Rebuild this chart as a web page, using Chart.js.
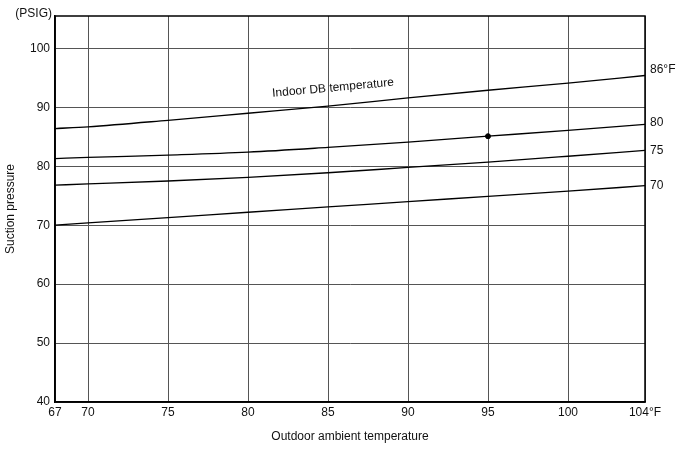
<!DOCTYPE html>
<html>
<head>
<meta charset="utf-8">
<script src="https://cdn.jsdelivr.net/npm/chart.js@4.4.1/dist/chart.umd.min.js"></script>
<style>
  html, body { margin: 0; padding: 0; background: #fff; }
  canvas { display: block; }
</style>
</head>
<body>
<canvas id="chart" width="687" height="449"></canvas>
<script>
// Chart data
const outdoorTemps = [67, 70, 75, 80, 85, 90, 95, 100, 104];
const suction86 = [86.4, 86.7, 87.8, 89.0, 90.2, 91.6, 92.9, 94.1, 95.4];
const suction80 = [81.3, 81.5, 81.9, 82.4, 83.2, 84.1, 85.1, 86.1, 87.1];
const suction75 = [76.8, 77.0, 77.5, 78.1, 78.9, 79.8, 80.7, 81.7, 82.7];
const suction70 = [70.0, 70.4, 71.3, 72.2, 73.1, 74.0, 74.9, 75.8, 76.7];
const curveLabels = ['86°F', '80', '75', '70'];
const markerTemp = [95];
const markerPressure = [85.1];
const pressureTicks = [40, 50, 60, 70, 80, 90, 100];
const pressureMax = 105.5;

// the printed axis is squeezed at both ends (67-70 and 100-104)
function toAxis(t) {
    if (t < 70) return 70 - (70 - t) * 11 / 16;
    if (t > 100) return 100 + (t - 100) * 77 / 64;
    return t;
}

const FONT = 'Liberation Sans, Arial, Helvetica, sans-serif';
Chart.defaults.font.family = FONT;
Chart.defaults.font.size = 12;
Chart.defaults.color = '#111';

function curve(values) {
    return {
        data: outdoorTemps.map((t, i) => ({ x: toAxis(t), y: values[i] })),
        borderColor: '#000',
        borderWidth: 1.3,
        pointRadius: 0,
        cubicInterpolationMode: 'monotone',
        fill: false
    };
}

const labelOffsets = [-6, -2, 0, 0];

const annotations = {
    id: 'annotations',
    afterDraw(chart) {
        const ctx = chart.ctx;
        const area = chart.chartArea;
        const x = chart.scales.x;
        const y = chart.scales.y;
        ctx.save();
        // box top / right edges
        ctx.strokeStyle = '#000';
        ctx.lineWidth = 1.5;
        ctx.strokeRect(area.left, area.top, area.right - area.left, area.bottom - area.top);

        ctx.fillStyle = '#111';
        ctx.font = '12px ' + FONT;
        ctx.textBaseline = 'middle';

        // unit label
        ctx.textAlign = 'right';
        ctx.fillText('(PSIG)', 52, 14);

        // curve labels at the right end
        ctx.textAlign = 'left';
        [suction86, suction80, suction75, suction70].forEach((vals, i) => {
            const py = y.getPixelForValue(vals[vals.length - 1]) + labelOffsets[i];
            ctx.fillText(curveLabels[i], area.right + 5, py);
        });

        // rotated caption over the top curve
        ctx.save();
        ctx.translate(x.getPixelForValue(toAxis(85)) + 5, 88);
        ctx.rotate(-5.2 * Math.PI / 180);
        ctx.textAlign = 'center';
        ctx.fillText('Indoor DB temperature', 0, 0);
        ctx.restore();
        ctx.restore();
    }
};

new Chart(document.getElementById('chart'), {
    type: 'line',
    data: {
        datasets: [
            curve(suction86),
            curve(suction80),
            curve(suction75),
            curve(suction70),
            {
                data: markerTemp.map((t, i) => ({ x: toAxis(t), y: markerPressure[i] })),
                showLine: false,
                pointRadius: 2.5,
                pointBackgroundColor: '#000',
                pointBorderColor: '#000'
            }
        ]
    },
    options: {
        responsive: false,
        animation: false,
        layout: { padding: { top: 16, right: 42, left: 0, bottom: 0 } },
        plugins: {
            legend: { display: false },
            tooltip: { enabled: false }
        },
        scales: {
            x: {
                type: 'linear',
                min: toAxis(67),
                max: toAxis(104),
                afterBuildTicks: s => { s.ticks = outdoorTemps.map(t => ({ value: toAxis(t) })); },
                afterFit: s => { s.height = 47; },
                grid: { color: '#555', lineWidth: 1, drawTicks: false },
                border: { color: '#000', width: 1.5 },
                ticks: {
                    autoSkip: false,
                    maxRotation: 0,
                    padding: 3,
                    color: '#111',
                    callback: (v, i) => i === outdoorTemps.length - 1 ? outdoorTemps[i] + '°F' : String(outdoorTemps[i])
                },
                title: {
                    display: true,
                    text: 'Outdoor ambient temperature',
                    color: '#111',
                    font: { size: 12 },
                    padding: { top: 0, bottom: 5 }
                }
            },
            y: {
                min: pressureTicks[0],
                max: pressureMax,
                afterBuildTicks: s => { s.ticks = pressureTicks.map(v => ({ value: v })); },
                afterFit: s => { s.width = 55; },
                grid: { color: '#555', lineWidth: 1, drawTicks: false },
                border: { color: '#000', width: 1.5 },
                ticks: { padding: 5, color: '#111' },
                title: {
                    display: true,
                    text: 'Suction pressure',
                    color: '#111',
                    font: { size: 12 },
                    padding: { top: 3, bottom: 0 }
                }
            }
        }
    },
    plugins: [annotations]
});
</script>
</body>
</html>
